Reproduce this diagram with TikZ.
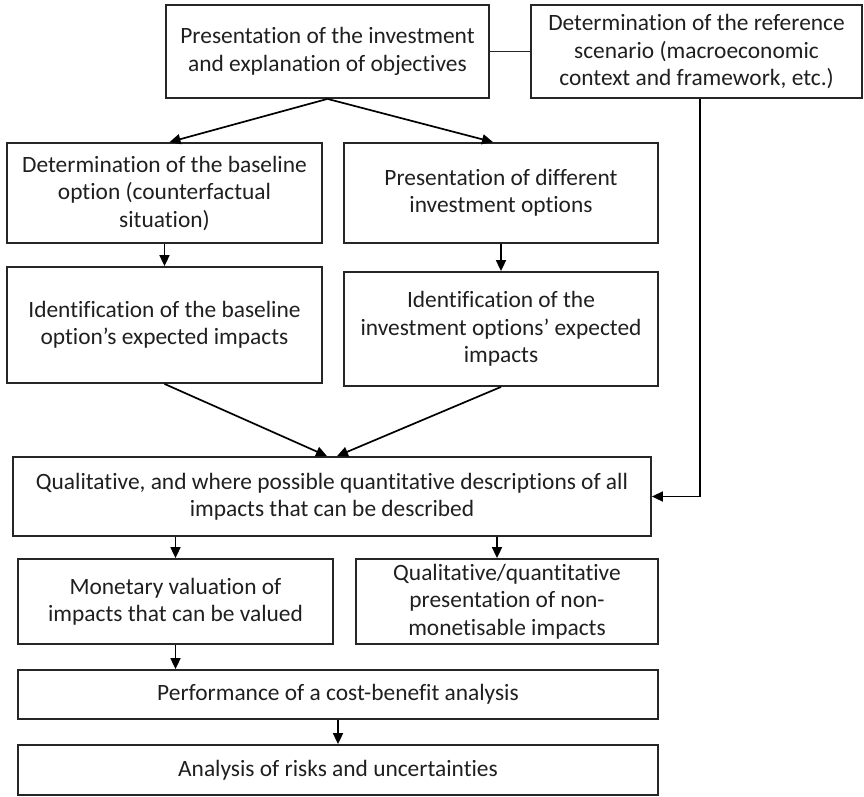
\documentclass[tikz,border=0pt]{standalone}
\usepackage{fontspec}
\setmainfont{Carlito}[Ligatures=NoCommon]
\usetikzlibrary{arrows.meta}
\begin{document}
\begin{tikzpicture}[x=1pt,y=-1pt,
  box/.style={draw=black!85, line width=1.8pt, align=center, inner sep=0pt,
    font=\fontsize{23.4}{27.5}\selectfont, text=black!88},
  arr/.style={draw=black, line width=1.7pt, -{Triangle[length=11pt,width=10pt]}},
  ln/.style={draw=black!85, line width=1.7pt}]
\useasboundingbox (0,0) rectangle (864,796);
\node[box, minimum width=323pt, minimum height=93pt] (b1) at (327.5,51.5)
  {Presentation of the investment\\and explanation of objectives};
\node[box, minimum width=331pt, minimum height=93pt] (b2) at (696.5,51.5)
  {Determination of the reference\\scenario (macroeconomic\\context and framework, etc.)};
\node[box, minimum width=315pt, minimum height=100pt] (b3) at (164.5,193)
  {Determination of the baseline\\option (counterfactual\\situation)};
\node[box, minimum width=314pt, minimum height=100pt] (b4) at (501,193)
  {Presentation of different\\investment options};
\node[box, minimum width=315pt, minimum height=116pt] (b5) at (164.5,325)
  {Identification of the baseline\\option’s expected impacts};
\node[box, minimum width=314pt, minimum height=114pt] (b6) at (501,329)
  {Identification of the\\investment options’ expected\\impacts};
\node[box, minimum width=638pt, minimum height=79pt] (b7) at (332,496.5)
  {Qualitative, and where possible quantitative descriptions of all\\impacts that can be described};
\node[box, minimum width=315pt, minimum height=85pt] (b8) at (175.5,601.5)
  {Monetary valuation of\\impacts that can be valued};
\node[box, minimum width=302pt, minimum height=85pt] (b9) at (507,601.5)
  {Qualitative/quantitative\\presentation of non-\\monetisable impacts};
\node[box, minimum width=640pt, minimum height=49pt] (b10) at (338,694.5)
  {Performance of a cost-benefit analysis};
\node[box, minimum width=640pt, minimum height=50pt] (b11) at (338,770)
  {Analysis of risks and uncertainties};
% connectors
\draw[ln] (b1.east) -- (b2.west);
\draw[arr] (b1.south) -- ([xshift=5pt]b3.north);
\draw[arr] (b1.south) -- ([xshift=-8pt]b4.north);
\draw[arr] (b3.south) -- (b3.south |- b5.north);
\draw[arr] (b4.south) -- (b4.south |- b6.north);
\draw[arr] (b5.south) -- ([xshift=-5pt]b7.north);
\draw[arr] (b6.south) -- ([xshift=5pt]b7.north);
\coordinate (s2) at ([xshift=3.5pt]b2.south);
\draw[arr] (s2) |- (b7.east);
\draw[arr] (b8.north |- b7.south) -- (b8.north);
\coordinate (t9) at ([xshift=-10pt]b9.north);
\draw[arr] (t9 |- b7.south) -- (t9);
\draw[arr] (b8.south) -- (b8.south |- b10.north);
\draw[arr] (b10.south) -- (b11.north);
\end{tikzpicture}
\end{document}
